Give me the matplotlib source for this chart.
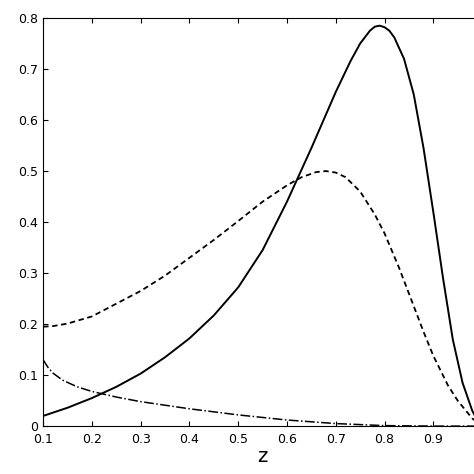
import matplotlib
matplotlib.use('Agg')
import matplotlib.pyplot as plt

# values
z_solid = [0.1, 0.15, 0.2, 0.25, 0.3, 0.35, 0.4, 0.45, 0.5, 0.55, 0.6, 0.65, 0.7, 0.73, 0.75, 0.77, 0.78, 0.79, 0.8, 0.81, 0.82, 0.84, 0.86, 0.88, 0.9, 0.92, 0.94, 0.96, 0.98, 0.99, 1.0]
solid = [0.02, 0.036, 0.055, 0.077, 0.103, 0.135, 0.172, 0.217, 0.272, 0.345, 0.44, 0.545, 0.655, 0.715, 0.75, 0.775, 0.783, 0.785, 0.782, 0.775, 0.762, 0.72, 0.65, 0.545, 0.42, 0.29, 0.17, 0.085, 0.03, 0.012, 0.0]

z_dash = [0.1, 0.12, 0.15, 0.2, 0.25, 0.3, 0.35, 0.4, 0.45, 0.5, 0.55, 0.6, 0.63, 0.66, 0.68, 0.7, 0.72, 0.75, 0.78, 0.8, 0.83, 0.85, 0.88, 0.9, 0.93, 0.95, 0.98, 1.0]
dashed = [0.195, 0.196, 0.201, 0.215, 0.24, 0.265, 0.295, 0.33, 0.365, 0.402, 0.44, 0.472, 0.488, 0.498, 0.5, 0.497, 0.488, 0.46, 0.415, 0.378, 0.31, 0.26, 0.185, 0.138, 0.08, 0.05, 0.015, 0.0]

z_dot = [0.1, 0.11, 0.12, 0.14, 0.17, 0.2, 0.25, 0.3, 0.4, 0.5, 0.6, 0.7, 0.8, 0.9, 1.0]
dashdot = [0.13, 0.115, 0.104, 0.09, 0.077, 0.068, 0.057, 0.048, 0.034, 0.022, 0.012, 0.005, 0.001, 0.0, 0.0]

fig = plt.figure(figsize=(4.74, 4.74), dpi=100)
ax = fig.add_axes([0.091, 0.101, 0.926, 0.861])
ax.plot(z_solid, solid, 'k-', lw=1.4)
ax.plot(z_dash, dashed, 'k--', lw=1.3, dashes=(3, 2))
ax.plot(z_dot, dashdot, 'k-.', lw=1.1)
ax.set_xlim(0.1, 1.0)
ax.set_ylim(0, 0.8)
ax.set_xticks([0.1, 0.2, 0.3, 0.4, 0.5, 0.6, 0.7, 0.8, 0.9])
ax.set_yticks([0, 0.1, 0.2, 0.3, 0.4, 0.5, 0.6, 0.7, 0.8])
ax.set_yticklabels(['0', '0.1', '0.2', '0.3', '0.4', '0.5', '0.6', '0.7', '0.8'])
ax.tick_params(direction='in', top=True, right=True, labelsize=9)
ax.tick_params(axis='x', pad=5)
ax.set_xlabel('z', fontsize=14, labelpad=1)
fig.savefig('out.png', dpi=100)
